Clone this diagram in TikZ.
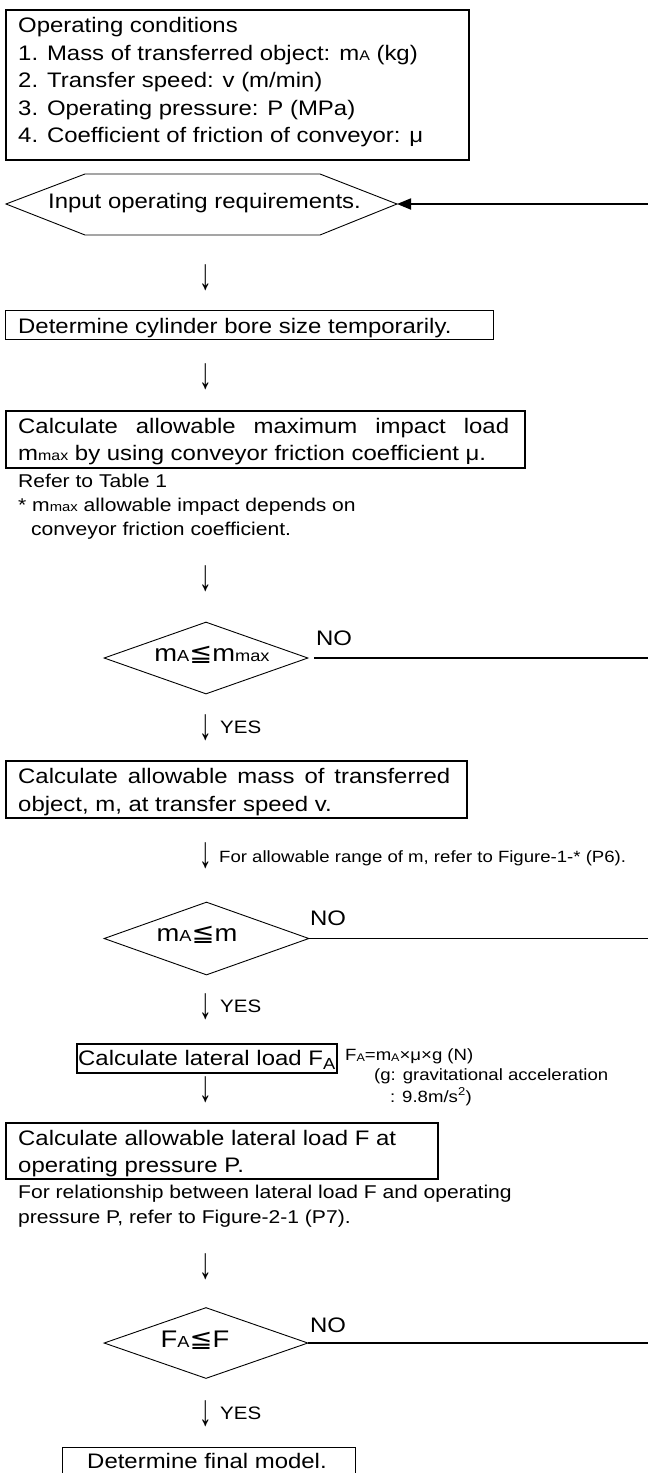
\documentclass[tikz,border=0pt]{standalone}
\usepackage{fontspec}
\setmainfont{Liberation Sans}[FakeStretch=1.14]
\newfontfamily\symf{DejaVu Sans}[FakeStretch=1.14]
\usetikzlibrary{arrows.meta,shapes.geometric}
\newcommand\mainsz{\fontsize{21}{27.5}\selectfont}
\newcommand\notesz{\fontsize{18.5}{24}\selectfont}
\newcommand\smlsz{\fontsize{16.3}{20}\selectfont}
\newcommand\diasz{\fontsize{24}{28}\selectfont}
\newcommand\lo[2]{{\fontsize{#1}{#1}\selectfont #2}}
\newcommand\darr{\scalebox{1.05}[2.1]{↓}}
\begin{document}
\begin{tikzpicture}[x=1pt,y=-1pt,
  boxthick/.style={draw, line width=1.8pt, anchor=north west, inner sep=0pt},
  boxthin/.style={draw, line width=0.9pt, anchor=north west, inner sep=0pt},
  txt/.style={anchor=base west, inner sep=0pt, font=\mainsz},
  note/.style={anchor=base west, inner sep=0pt, font=\notesz},
  smalltxt/.style={anchor=base west, inner sep=0pt, font=\smlsz},
  dn/.style={inner sep=0pt, font=\mainsz},
  dia/.style={draw, diamond, line width=0.9pt, inner sep=0pt, aspect=2.8},
  diatxt/.style={anchor=base, inner sep=0pt, font=\diasz},
  noline/.style={line width=1.1pt},
  yes/.style={anchor=base west, inner sep=0pt, font=\fontsize{18}{20}\selectfont},
  notxt/.style={anchor=base west, inner sep=0pt, font=\mainsz}]
\useasboundingbox (0,0) rectangle (648,1473);
\fill[white] (0,0) rectangle (648,1473);

% Operating conditions
\node[boxthick, minimum width=463pt, minimum height=150pt] (cond) at (5,9) {};
\node[txt] (c0) at (18,32) {Operating conditions};
\node[txt] (c1) at (18,60) {1. Mass of transferred object: m\lo{14}{A} (kg)};
\node[txt] (c2) at (18,87) {2. Transfer speed: v (m/min)};
\node[txt] (c3) at (18,115) {3. Operating pressure: P (MPa)};
\node[txt] (c4) at (18,142) {4. Coefficient of friction of conveyor: μ};

% Input hexagon
\coordinate (hexL) at (6,204);
\coordinate (hexR) at (397,204);
\draw[line width=0.9pt] (hexL) -- (85,174) -- (320,174) -- (hexR) -- (320,235) -- (85,235) -- cycle;
\node[anchor=base, inner sep=0pt, font=\mainsz] (inp) at (204.5,208) {Input operating requirements.};
\coordinate (fbR) at (648,204);
\draw[line width=1.8pt, -{Triangle[length=14pt,width=11pt]}] (fbR) -- (hexR);

\node[dn] (a1) at (206,278) {\darr};

% bore size
\node[boxthin, minimum width=488pt, minimum height=29pt] (bore) at (5,310) {};
\node[txt] (boret) at (18,333) {Determine cylinder bore size temporarily.};

\node[dn] (a2) at (206,377) {\darr};

% mmax box
\node[boxthick, minimum width=519pt, minimum height=57pt] (mmaxb) at (5,410) {};
\node[txt] (mm1) at (18,433) {\hbox to 491pt{Calculate\hfill allowable\hfill maximum\hfill impact\hfill load}};
\node[txt] (mm2) at (18,460) {m\lo{14}{max} by using conveyor friction coefficient μ.};
\node[note] (n1) at (18,487) {Refer to Table 1};
\node[note] (n2) at (18,511) {* m\lo{13}{max} allowable impact depends on};
\node[note] (n3) at (31,535) {conveyor friction coefficient.};

\node[dn] (a3) at (206,579) {\darr};

% diamond 1
\node[dia, minimum width=204pt, minimum height=72pt] (d1) at (206,658) {};
\node[diatxt] (d1t) at (212,661) {m\lo{16}{A}{\symf ≦}m\lo{16}{max}};
\node[notxt] (no1) at (316,645) {NO};
\coordinate (e1) at (648,658);
\draw[noline] ([xshift=6pt]d1.east) -- (e1);

\node[dn] (a4) at (206,727.5) {\darr};
\node[yes] (y1) at (220,733) {YES};

% allowable mass box
\node[boxthick, minimum width=461pt, minimum height=57pt] (massb) at (5,760) {};
\node[txt] (ms1) at (18,783) {\hbox to 432pt{Calculate\hfill allowable\hfill mass\hfill of\hfill transferred}};
\node[txt] (ms2) at (18,811) {object, m, at transfer speed v.};

\node[dn] (a5) at (206,856) {\darr};
\node[smalltxt] (r1) at (219,862) {For allowable range of m, refer to Figure-1-* (P6).};

% diamond 2
\node[dia, minimum width=205pt, minimum height=73pt] (d2) at (206.5,938.5) {};
\node[diatxt] (d2t) at (197,941) {m\lo{16}{A}{\symf ≦}m};
\node[notxt] (no2) at (310,925) {NO};
\coordinate (e2) at (648,938.5);
\draw[noline] (d2.east) -- (e2);

\node[dn] (a6) at (206,1007) {\darr};
\node[yes] (y2) at (220,1012) {YES};

% lateral load box
\node[boxthick, minimum width=260pt, minimum height=29pt] (latb) at (76,1043) {};
\node[txt] (latt) at (78,1065) {Calculate lateral load F\raisebox{-4pt}{\lo{16}{A}}};
\node[smalltxt] (f1) at (345,1060) {F\raisebox{-1.5pt}{\lo{11}{A}}=m\raisebox{-1.5pt}{\lo{11}{A}}×μ×g (N)};
\node[smalltxt] (f2) at (374,1080) {(g: gravitational acceleration};
\node[smalltxt] (f3) at (390,1102) {: 9.8m/s\textsuperscript{2})};

\node[dn] (a7) at (206,1090) {\darr};

% allowable lateral load box
\node[boxthick, minimum width=432pt, minimum height=56pt] (allb) at (5,1122) {};
\node[txt] (al1) at (18,1145) {Calculate allowable lateral load F at};
\node[txt] (al2) at (18,1172) {operating pressure P.};
\node[note] (n4) at (18,1198) {For relationship between lateral load F and operating};
\node[note] (n5) at (18,1223) {pressure P, refer to Figure-2-1 (P7).};

\node[dn] (a8) at (206,1267) {\darr};

% diamond 3
\node[dia, minimum width=204pt, minimum height=71pt] (d3) at (206,1343) {};
\node[diatxt] (d3t) at (195,1347) {F\lo{16}{A}{\symf ≦}F};
\node[notxt] (no3) at (310,1332) {NO};
\coordinate (e3) at (648,1343);
\draw[noline] (d3.east) -- (e3);

\node[dn] (a9) at (206,1414) {\darr};
\node[yes] (y3) at (220,1419) {YES};

% final
\node[boxthin, minimum width=293pt, minimum height=45pt] (finb) at (62,1447) {};
\node[anchor=base, inner sep=0pt, font=\mainsz] (fint) at (207,1468) {Determine final model.};
\end{tikzpicture}
\end{document}
